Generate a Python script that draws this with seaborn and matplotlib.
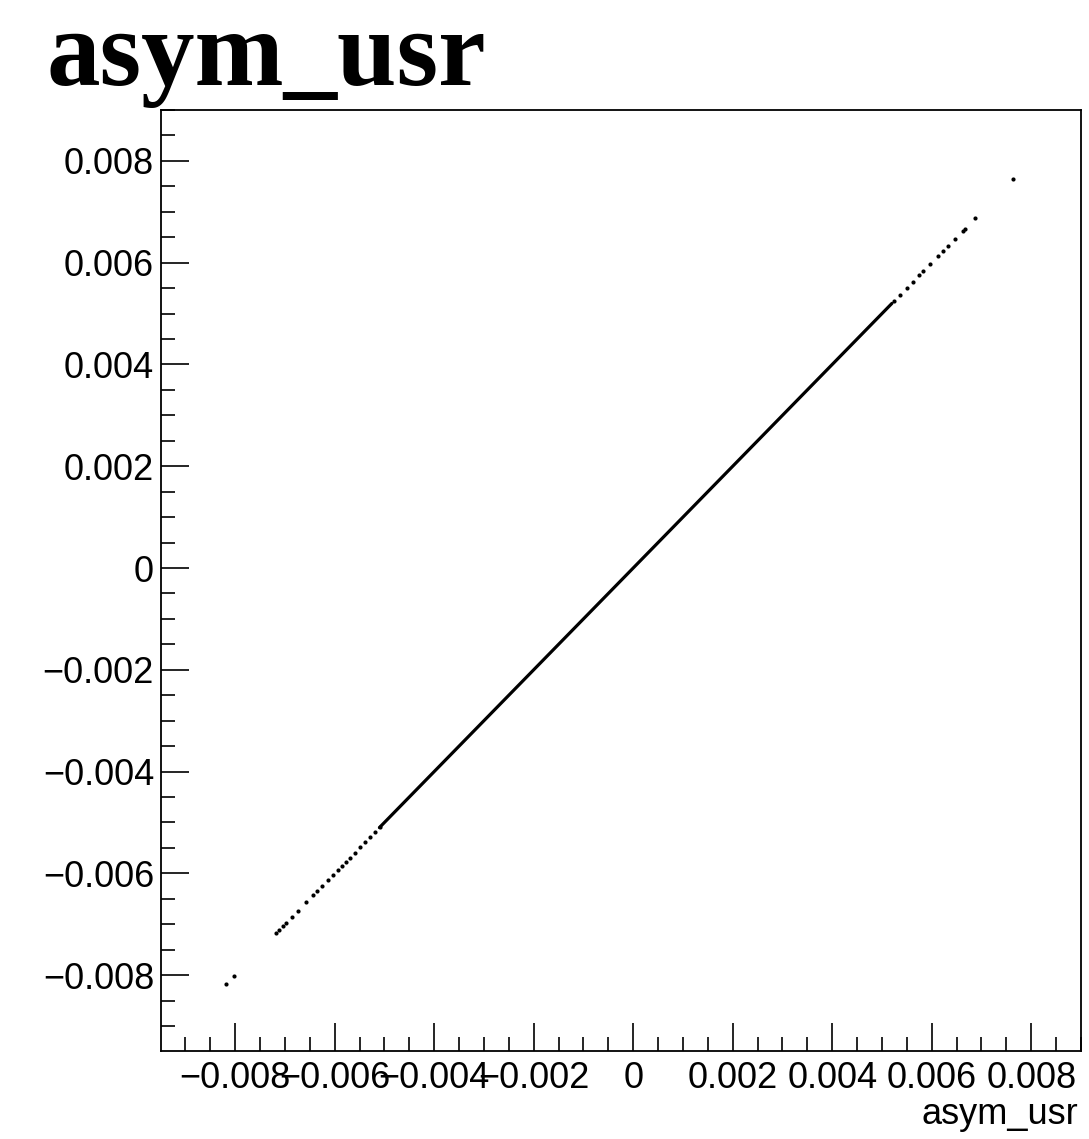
import matplotlib
matplotlib.use("Agg")
import matplotlib.pyplot as plt
import seaborn as sns
import pandas as pd
from matplotlib.ticker import MultipleLocator, FuncFormatter

# asym_usr plotted against itself: dense core (drawn as a polyline) + sparse tails
core_x = [-0.0051, -0.00265, -0.00023, 0.00218, 0.00435, 0.0052]
tail_x = [-0.00818, -0.00802, -0.00718, -0.00712, -0.00704, -0.00698, -0.00685,
          -0.00673, -0.00657, -0.00643, -0.00635, -0.00625, -0.00613, -0.00603,
          -0.00593, -0.00585, -0.00577, -0.00569, -0.00559, -0.00549, -0.00539,
          -0.00529, -0.00519, -0.00509,
          0.00525, 0.00537, 0.0055, 0.00563, 0.00575, 0.00583, 0.00597, 0.00613,
          0.00623, 0.00633, 0.00647, 0.00663, 0.00667, 0.00687, 0.00764]
x_lim = (-0.00949, 0.0090)
y_lim = (-0.00949, 0.0090)
title = "asym_usr"
x_label = "asym_usr"

sns.set_style("ticks")
plt.rcParams["font.family"] = ["Liberation Sans", "DejaVu Sans"]

fig = plt.figure(figsize=(10.89, 11.39), dpi=100)
ax = fig.add_axes([161 / 1089, 1 - 1051 / 1139, 920 / 1089, 941 / 1139])

core = pd.DataFrame({"x": core_x, "y": core_x})
tail = pd.DataFrame({"x": tail_x, "y": tail_x})
sns.lineplot(data=core, x="x", y="y", ax=ax, color="black", linewidth=2.3,
             estimator=None, sort=False)
sns.scatterplot(data=tail, x="x", y="y", ax=ax, color="black", s=9,
                linewidth=0, marker="o")

ax.set_xlim(*x_lim)
ax.set_ylim(*y_lim)

fmt = FuncFormatter(lambda v, p: "0" if abs(v) < 1e-12 else f"{v:.3f}".replace("-", "\u2212"))
for axis in (ax.xaxis, ax.yaxis):
    axis.set_major_locator(MultipleLocator(0.002))
    axis.set_minor_locator(MultipleLocator(0.0005))
    axis.set_major_formatter(fmt)

ax.tick_params(which="major", direction="in", length=20, width=1.2,
               labelsize=26, color="black", labelcolor="black")
ax.tick_params(which="minor", direction="in", length=10, width=1.2, color="black")
ax.tick_params(axis="x", pad=7)
ax.tick_params(axis="y", pad=5)
for sp in ax.spines.values():
    sp.set_visible(True)
    sp.set_color("black")
    sp.set_linewidth(1.3)

ax.set_xlabel("")
ax.set_ylabel("")
fig.text(1078 / 1089, 1 - 1115 / 1139, x_label, ha="right", va="center",
         fontsize=26, color="black")
fig.text(47 / 1089, 1 - 85 / 1139, title, ha="left", va="baseline", color="black",
         fontsize=77, fontweight="bold", family=["Liberation Serif", "DejaVu Serif"])

fig.savefig("out.png", dpi=100, facecolor="white")
